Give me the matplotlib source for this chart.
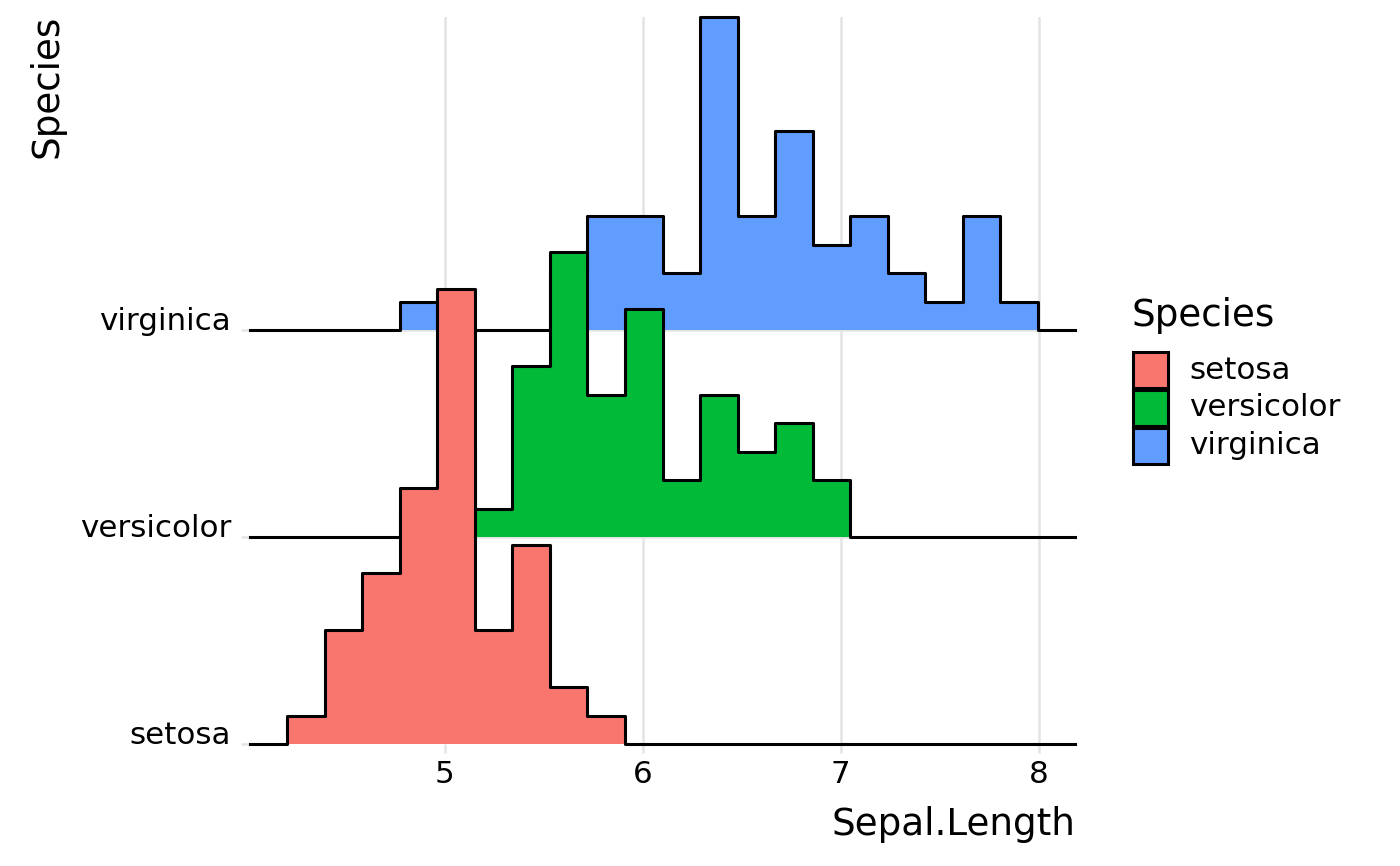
import numpy as np
import matplotlib.pyplot as plt
from matplotlib.patches import Rectangle

# iris Sepal.Length, binned into 20 bins (counts)
species = ['setosa', 'versicolor', 'virginica']
colors = ['#F8766D', '#00BA38', '#619CFF']

bin_edges = [4.205, 4.395, 4.584, 4.774, 4.963, 5.153, 5.342, 5.532, 5.721, 5.911,
             6.100, 6.289, 6.479, 6.668, 6.858, 7.047, 7.237, 7.426, 7.616, 7.805, 7.995]
setosa_counts = [1, 4, 6, 9, 16, 4, 7, 2, 1, 0, 0, 0, 0, 0, 0, 0, 0, 0, 0, 0]
versicolor_counts = [0, 0, 0, 1, 3, 1, 6, 10, 5, 8, 2, 5, 3, 4, 2, 0, 0, 0, 0, 0]
virginica_counts = [0, 0, 0, 1, 0, 0, 0, 2, 4, 4, 2, 11, 4, 7, 3, 4, 2, 1, 4, 1]
counts = [setosa_counts, versicolor_counts, virginica_counts]

# empty padding bin on each side, like stat_binline(pad = TRUE)
x_min, x_max = 4.016, 8.184
x_ticks = [5, 6, 7, 8]

scale = 2.2
unit = scale / max(max(c) for c in counts)

W, H = 1400, 866
fig = plt.figure(figsize=(W / 100, H / 100), dpi=100)
ax = fig.add_axes([250 / W, 122 / H, 825 / W, 727 / H])

grid_col = '#e4e4e4'
top = 1
# draw top ridge first so the lower ones sit in front
for k, i in enumerate(reversed(range(len(species)))):
    base = i + 1
    edges = [x_min] + bin_edges + [x_max]
    h = np.array([0] + counts[i] + [0], dtype=float)
    y = base + unit * h
    y = np.append(y, y[-1])
    ax.fill_between(edges, base, y, step='post', color=colors[i], lw=0, zorder=2 + k)
    ax.step(edges, y, where='post', color='black', lw=2.2, zorder=2 + k, clip_on=False)
    top = max(top, y.max())

ax.set_xlim(x_min, x_max)
ax.set_ylim(1, top)
ax.set_xticks(x_ticks)
ax.set_xticklabels([str(t) for t in x_ticks])
ax.set_yticks(range(1, len(species) + 1))
ax.set_yticklabels(species)
for lab in ax.get_yticklabels():
    lab.set_va('baseline')

ax.set_axisbelow(True)
ax.grid(True, color=grid_col, lw=1.8)
ax.tick_params(axis='both', length=6.5, width=1.8, color=grid_col,
               labelsize=22.3, labelcolor='black')
ax.tick_params(axis='y', pad=7)
ax.tick_params(axis='x', pad=5)
for s in ax.spines.values():
    s.set_visible(False)

# axis titles
fig.text(47 / W, 1 - 15 / H, 'Species', rotation=90, ha='center', va='top', fontsize=26.8)
fig.text(1075 / W, 1 - 835 / H, 'Sepal.Length', ha='right', va='baseline', fontsize=26.8)

# legend
fig.text(1131 / W, 1 - 316 / H, 'Species', ha='left', va='center', fontsize=26.8)
for j, (name, col) in enumerate(zip(species, colors)):
    y0 = 352 + 38 * j
    fig.add_artist(Rectangle((1133 / W, 1 - (y0 + 36) / H), 35 / W, 36 / H,
                             transform=fig.transFigure, fc=col, ec='black', lw=2.2))
    fig.text(1189 / W, 1 - (y0 + 18) / H, name, ha='left', va='center', fontsize=22.3)

fig.savefig('out.png', dpi=100)
